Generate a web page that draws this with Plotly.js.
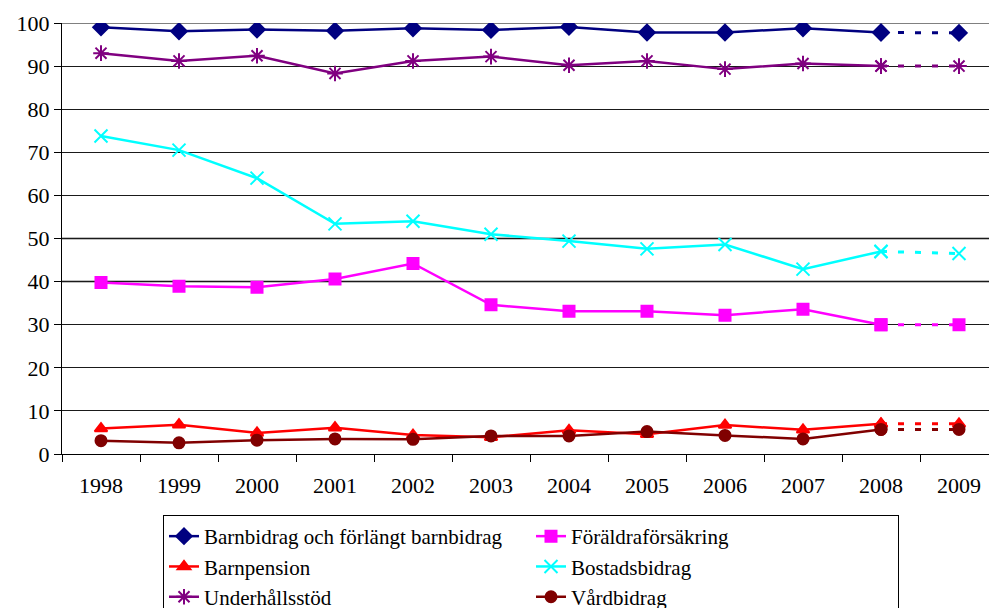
<!DOCTYPE html>
<html>
<head>
<meta charset="utf-8">
<script src="https://cdn.plot.ly/plotly-3.0.1.min.js"></script>
<style>
  html, body { margin: 0; padding: 0; overflow: hidden; background: #fff; }
  #chart { width: 1000px; height: 625px; }
</style>
</head>
<body>
<div id="chart"></div>
<script>
var years = ['1998','1999','2000','2001','2002','2003','2004','2005','2006','2007','2008','2009'];

var barnbidrag     = [99.0, 98.1, 98.5, 98.2, 98.8, 98.4, 99.1, 97.8, 97.8, 98.8, 97.8, 97.7];
var foraldra       = [39.8, 38.9, 38.7, 40.6, 44.2, 34.6, 33.1, 33.1, 32.2, 33.6, 30.0, 30.0];
var barnpension    = [5.9, 6.8, 4.9, 6.1, 4.4, 3.9, 5.5, 4.6, 6.7, 5.6, 7.0, 7.0];
var bostadsbidrag  = [73.8, 70.5, 64.0, 53.4, 54.0, 51.0, 49.4, 47.6, 48.6, 42.9, 47.0, 46.5];
var underhall      = [93.0, 91.2, 92.4, 88.3, 91.2, 92.2, 90.2, 91.2, 89.3, 90.6, 90.0, 90.0];
var vardbidrag     = [3.1, 2.6, 3.2, 3.5, 3.4, 4.2, 4.2, 5.2, 4.3, 3.5, 5.7, 5.7];

// series in legend order (row by row, two columns)
var series = [
  { name: 'Barnbidrag och förlängt barnbidrag', y: barnbidrag, color: '#000080', symbol: 'diamond', size: 12 },
  { name: 'Föräldraförsäkring', y: foraldra, color: '#ff00ff', symbol: 'square', size: 11 },
  { name: 'Barnpension', y: barnpension, color: '#ff0000', symbol: 'triangle-up', size: 11 },
  { name: 'Bostadsbidrag', y: bostadsbidrag, color: '#00ffff', symbol: 'x-thin-open', size: 13 },
  { name: 'Underhållsstöd', y: underhall, color: '#800080', symbol: 'asterisk-open', size: 13 },
  { name: 'Vårdbidrag', y: vardbidrag, color: '#800000', symbol: 'circle', size: 11 }
];

var grayGrid = [100, 50, 40];

var solidEnd = years.length - 1; // 2008 is last solid point

var data = [];
series.forEach(function (s) {
  data.push({
    x: years.slice(0, solidEnd),
    y: s.y.slice(0, solidEnd),
    name: s.name,
    type: 'scatter',
    mode: 'lines+markers',
    line: { color: s.color, width: 2.5 },
    marker: { symbol: s.symbol, size: s.size, color: s.color, line: { color: s.color, width: 2 } },
    hoverinfo: 'x+y+name'
  });
});
// dashed forecast part
series.forEach(function (s) {
  data.push({
    x: years.slice(solidEnd - 1),
    y: s.y.slice(solidEnd - 1),
    name: s.name,
    type: 'scatter',
    mode: 'lines+markers',
    line: { color: s.color, width: 3, dash: '6px,11px' },
    marker: { symbol: s.symbol, size: s.size, color: s.color, line: { color: s.color, width: 2 } },
    showlegend: false,
    hoverinfo: 'x+y+name'
  });
});

var shapes = grayGrid.map(function (v) {
  return {
    type: 'line', xref: 'paper', yref: 'y', x0: 0, x1: 1, y0: v, y1: v,
    line: { color: '#808080', width: 2 }, layer: 'between'
  };
});

var serif = '"Liberation Serif", serif';

var layout = {
  width: 1000,
  height: 625,
  margin: { l: 62, r: 2, t: 23, b: 171 },
  paper_bgcolor: '#fff',
  plot_bgcolor: '#fff',
  font: { family: serif, size: 22, color: '#000' },
  showlegend: true,
  shapes: shapes,
  xaxis: {
    type: 'category',
    categoryorder: 'array',
    categoryarray: years,
    range: [-0.5, 11.5],
    showgrid: false,
    zeroline: false,
    showline: true,
    linecolor: '#000',
    linewidth: 1,
    ticks: 'outside',
    tickson: 'boundaries',
    ticklen: 7,
    tickcolor: '#000',
    ticklabelstandoff: 12
  },
  yaxis: {
    range: [0, 100],
    dtick: 10,
    showgrid: true,
    gridcolor: '#1a1a1a',
    gridwidth: 1,
    zeroline: false,
    showline: true,
    linecolor: '#000',
    linewidth: 1,
    ticks: 'outside',
    ticklen: 7,
    tickcolor: '#000'
  },
  legend: {
    orientation: 'h',
    bgcolor: '#fff',
    bordercolor: '#000',
    borderwidth: 1,
    font: { family: serif, size: 21, color: '#000' },
    entrywidth: 322,
    traceorder: 'normal',
    xanchor: 'left',
    yanchor: 'top'
  }
};

// legend position in pixels -> paper fraction
var plotW = layout.width - layout.margin.l - layout.margin.r;
var plotH = layout.height - layout.margin.t - layout.margin.b;
layout.legend.x = (163 - layout.margin.l) / plotW;
layout.legend.y = (layout.height - layout.margin.b - 515) / plotH;

Plotly.newPlot('chart', data, layout, { displayModeBar: false, staticPlot: true });
</script>
</body>
</html>
